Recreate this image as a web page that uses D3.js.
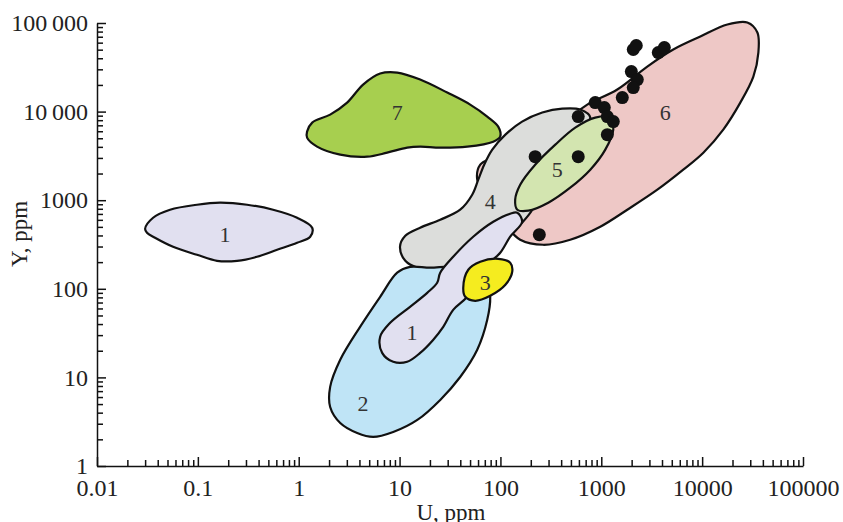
<!DOCTYPE html>
<html>
<head>
<meta charset="utf-8">
<script src="https://cdn.jsdelivr.net/npm/d3@7"></script>
<style>
  body { margin: 0; background: #fff; }
  svg { display: block; font-family: "Liberation Serif", "Times New Roman", serif; }
  .axis path, .axis line { stroke: #111; stroke-width: 1.5; }
  .axis text { font-size: 24px; fill: #222; font-family: "Liberation Serif", serif; }
  .field { stroke: #111; stroke-width: 2.2; stroke-linejoin: round; }
  .field-label { font-size: 22px; fill: #333; text-anchor: middle; }
</style>
</head>
<body>
<div class="chart"></div>
<script>
// axis ticks
const xTicks = [0.01, 0.1, 1, 10, 100, 1000, 10000, 100000];
const xTickLabels = ["0.01", "0.1", "1", "10", "100", "1000", "10000", "100000"];
const yTicks = [1, 10, 100, 1000, 10000, 100000];
const yTickLabels = ["1", "10", "100", "1000", "10\u2009000", "100\u2009000"];

// field outlines, [U ppm, Y ppm]
const field1a = [[0.030, 476], [0.036, 634], [0.053, 781], [0.098, 889], [0.166, 937], [0.308, 889],
  [0.557, 781], [0.964, 634], [1.36, 489], [1.30, 387], [0.964, 331], [0.611, 276], [0.386, 230],
  [0.245, 207], [0.155, 207], [0.098, 242], [0.0568, 298], [0.0376, 377], [0.0313, 429]];
const field1b = [[147, 722], [164, 571], [125, 387], [99.5, 255], [79.2, 197], [46.9, 81.2], [34.0, 57.9],
  [27.1, 37.2], [21.5, 26.5], [16.0, 18.9], [11.9, 15.0], [8.65, 15.0], [6.72, 18.9], [6.42, 28.7],
  [8.07, 41.3], [12.7, 62.6], [18.8, 90.1], [23.6, 117], [25.3, 152], [34.0, 230], [53.7, 387],
  [84.9, 571], [125, 704]];
const field2 = [[12.7, 177], [9.47, 152], [6.42, 81.2], [4.06, 37.2], [2.58, 15.8], [2.05, 7.81],
  [2.05, 4.64], [2.58, 3.06], [3.80, 2.36], [5.47, 2.13], [8.65, 2.42], [15.0, 3.31], [25.3, 5.57],
  [39.9, 10.1], [58.9, 20.5], [74.0, 44.6], [79.2, 81.2], [75.7, 105], [58.9, 152], [34.0, 177], [20.1, 173]];
const field3 = [[42.8, 103], [48.0, 164], [63.1, 202], [95.1, 218], [125, 197], [131, 156], [112, 111],
  [79.2, 83.4], [56.2, 73.2], [44.8, 81.2]];
const field4 = [[10.1, 298], [11.4, 397], [16.0, 489], [25.3, 602], [39.9, 781], [52.5, 1153], [60.3, 1706],
  [69.0, 2518], [83.0, 3723], [112, 5495], [164, 7709], [260, 9750], [410, 10800], [619, 10540],
  [778, 8550], [552, 4830], [350, 2518], [248, 1314], [207, 781], [157, 529], [99.5, 314], [50.1, 202],
  [25.3, 160], [15.0, 173], [11.4, 207]];
const field5 = [[140, 1014], [157, 1497], [221, 2518], [350, 4236], [552, 6590], [871, 8550], [1228, 8550],
  [1315, 6266], [1096, 3723], [778, 2212], [492, 1384], [298, 937], [189, 761], [147, 781]];
const field6 = [[726, 12000], [1442, 17740], [2858, 32230], [5176, 50200], [9600, 70340], [17780, 96200],
  [28060, 101400], [35300, 78100], [36100, 46400], [32200, 24850], [23900, 12640], [16200, 6266],
  [10280, 3440], [6500, 2212], [3597, 1314], [1811, 781], [977, 502], [492, 358], [266, 314], [157, 358],
  [112, 529], [70.7, 1153], [58.9, 1706], [63.1, 2518], [83.0, 3020], [125, 3723], [392, 7130]];
const field7 = [[1.21, 5943], [1.36, 7510], [2.05, 9250], [3.02, 12640], [4.35, 20180], [6.42, 26880],
  [9.47, 27590], [16.0, 23000], [29.7, 16400], [50.1, 12000], [74.0, 8790], [95.1, 6770], [99.5, 5220],
  [84.9, 4580], [46.9, 4025], [25.3, 3920], [16.0, 4025], [11.9, 3920], [7.53, 3440], [4.77, 3100],
  [2.58, 3266], [1.52, 4025], [1.21, 5080]];

// drawing order, fill colours and labels
const fieldOrder = [field6, field4, field5, field2, field1b, field3, field1a, field7];
const fieldColors = ["#eec8c6", "#dcdddb", "#d3e5b0", "#bfe4f6", "#e1e0f0", "#f5ec1f", "#e1e0f0", "#a7cf4f"];
const fieldNames = ["6", "4", "5", "2", "1", "3", "1", "7"];
const labelU = [4315, 79.2, 366, 4.35, 13.3, 70.7, 0.186, 9.47];
const labelY = [9750, 961, 2212, 5.15, 32.7, 117, 408, 9750];

// analysed samples
const sampleU = [2075, 2223, 3675, 4217, 1986, 2275, 2075, 1615, 871, 1071, 1148, 1315, 591, 1148, 591, 221, 243];
const sampleY = [50200, 55700, 46400, 52850, 28300, 23000, 18670, 14390, 12640, 11100, 8790, 7709, 8790, 5495, 3100, 3100, 408];

const width = 843, height = 522;
const svg = d3.select(".chart").append("svg")
  .attr("width", width)
  .attr("height", height);

const x = d3.scaleLog().domain([0.01, 100000]).range([97, 803]);
const y = d3.scaleLog().domain([1, 100000]).range([466, 23]);

const line = d3.line()
  .x(d => x(d[0]))
  .y(d => y(d[1]))
  .curve(d3.curveCatmullRomClosed.alpha(0.5));

// fields
svg.append("g")
  .selectAll("path")
  .data(fieldOrder)
  .enter()
  .append("path")
  .attr("class", "field")
  .attr("d", line)
  .attr("fill", (d, i) => fieldColors[i]);

// sample points
svg.append("g")
  .selectAll("circle")
  .data(sampleU)
  .enter()
  .append("circle")
  .attr("cx", d => x(d))
  .attr("cy", (d, i) => y(sampleY[i]))
  .attr("r", 6.5)
  .attr("fill", "#111");

// field numbers
svg.append("g")
  .selectAll("text")
  .data(fieldNames)
  .enter()
  .append("text")
  .attr("class", "field-label")
  .attr("x", (d, i) => x(labelU[i]))
  .attr("y", (d, i) => y(labelY[i]))
  .attr("dy", "0.35em")
  .text(d => d);

// axes: minor ticks first, then majors with labels
const isDecade = v => Math.abs(Math.log10(v) - Math.round(Math.log10(v))) < 1e-6;

svg.append("g")
  .attr("class", "axis")
  .attr("transform", `translate(0, ${y(1)})`)
  .call(d3.axisBottom(x).tickValues(x.ticks().filter(v => !isDecade(v))).tickSize(-6).tickFormat(""))
  .call(g => g.select(".domain").remove());

svg.append("g")
  .attr("class", "axis")
  .attr("transform", `translate(0, ${y(1)})`)
  .call(d3.axisBottom(x).tickValues(xTicks).tickSizeInner(-9).tickSizeOuter(0).tickPadding(13)
    .tickFormat((d, i) => xTickLabels[i]));

svg.append("g")
  .attr("class", "axis")
  .attr("transform", `translate(${x(0.01)}, 0)`)
  .call(d3.axisLeft(y).tickValues(y.ticks().filter(v => !isDecade(v))).tickSize(-6).tickFormat(""))
  .call(g => g.select(".domain").remove());

svg.append("g")
  .attr("class", "axis")
  .attr("transform", `translate(${x(0.01)}, 0)`)
  .call(d3.axisLeft(y).tickValues(yTicks).tickSizeInner(-9).tickSizeOuter(0).tickPadding(9)
    .tickFormat((d, i) => yTickLabels[i]));

// axis titles
svg.append("text")
  .attr("x", 451)
  .attr("y", 520)
  .attr("text-anchor", "middle")
  .style("font-size", "23px")
  .style("fill", "#222")
  .text("U, ppm");

svg.append("text")
  .attr("transform", "translate(27, 234) rotate(-90)")
  .attr("text-anchor", "middle")
  .style("font-size", "23px")
  .style("fill", "#222")
  .text("Y, ppm");
</script>
</body>
</html>
